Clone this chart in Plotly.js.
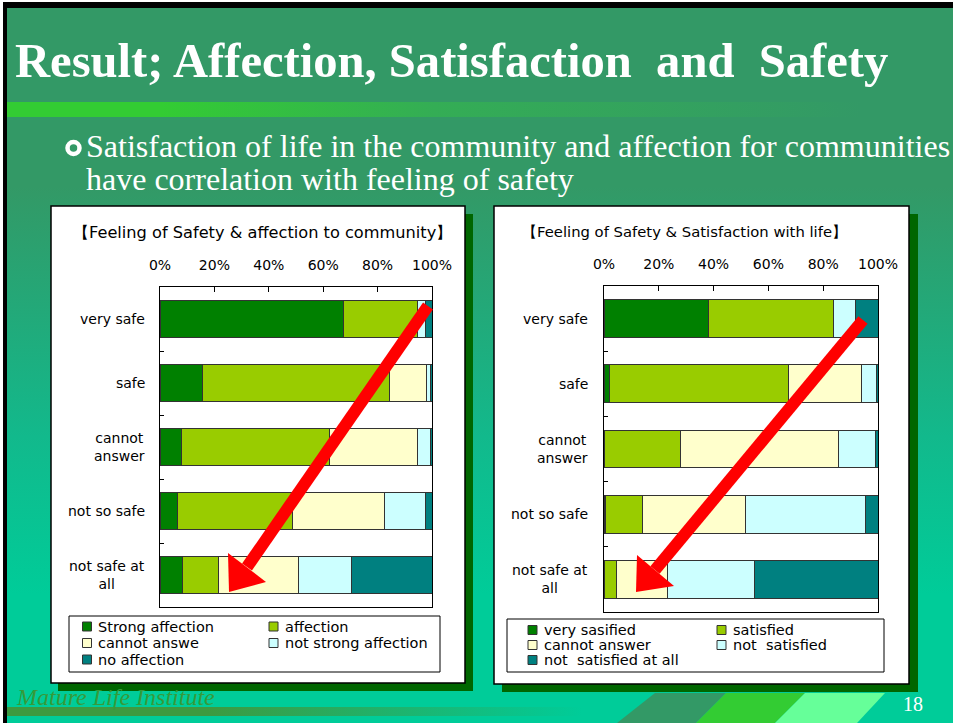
<!DOCTYPE html>
<html>
<head>
<meta charset="utf-8">
<script src="https://cdn.plot.ly/plotly-3.0.1.min.js"></script>
<style>
html,body{margin:0;padding:0;background:#fff;}
#wrap{position:relative;width:953px;height:723px;overflow:hidden;background:#fff;}
#bg{position:absolute;left:3px;top:2px;width:950px;height:721px;box-sizing:border-box;border-left:4px solid #000;border-top:6px solid #000;
 background:linear-gradient(to bottom,#339966 0%,#339966 25%,#12b98c 60%,#00cc99 82%,#00cc99 100%);}
#bar1{position:absolute;left:7px;top:102px;width:855px;height:15px;background:linear-gradient(to right,#33cc33 0%,#33cc33 18%,#34ad55 50%,#339966 100%);}
#bar2{position:absolute;left:7px;top:707px;width:575px;height:9px;background:linear-gradient(to right,#3d9a40 0%,#3d9a40 35%,rgba(0,204,153,0) 100%);}
#chart{position:absolute;left:0;top:0;width:953px;height:723px;}
</style>
</head>
<body>
<div id="wrap">
  <div id="bg"></div>
  <div id="bar1"></div>
  <div id="bar2"></div>
  <div id="chart"></div>
</div>
<script>
// ---------- data ----------
const categories = ['very safe', 'safe', 'cannot answer', 'not so safe', 'not safe at all'];
const categoryLabels = ['very safe', 'safe', 'cannot<br>answer', 'not so safe', 'not safe at<br>all'];

const affectionNames = ['Strong affection', 'affection', 'cannot answe', 'not strong affection', 'no affection'];
const strongAffection    = [67.5, 15.7,  8.0,  6.5,  8.3];
const affection          = [27.0, 68.7, 54.4, 42.3, 13.3];
const cannotAnswerA      = [ 0.3, 13.6, 32.1, 33.9, 29.4];
const notStrongAffection = [ 2.8,  1.5,  4.9, 14.9, 19.3];
const noAffection        = [ 2.4,  0.5,  0.6,  2.4, 29.7];

const satisfactionNames = ['very sasified', 'satisfied', 'cannot answer', 'not\u00a0 satisfied', 'not\u00a0 satisfied at all'];
const verySatisfied      = [38.0,  1.9,  0.3,  0.7,  0.0];
const satisfied          = [45.8, 65.6, 27.7, 13.2,  4.6];
const cannotAnswerS      = [ 0.0, 26.5, 57.7, 37.7, 18.5];
const notSatisfied       = [ 8.1,  5.4, 13.4, 44.0, 32.0];
const notSatisfiedAtAll  = [ 8.1,  0.6,  0.9,  4.4, 44.9];

const pctTicks = [0, 20, 40, 60, 80, 100];
const pctLabels = ['0%', '20%', '40%', '60%', '80%', '100%'];

const chartTitles = ['\u3010Feeling of Safety & affection to community\u3011', '\u3010Feeling of Safety & Satisfaction with life\u3011'];

// ---------- styling ----------
const colors = ['#008000', '#99cc00', '#ffffcc', '#ccffff', '#008080'];
const W = 953, H = 723;
const px = x => x / W;
const py = y => 1 - y / H;
const pt = (x, y) => px(x) + ',' + py(y);

const seriesA = [strongAffection, affection, cannotAnswerA, notStrongAffection, noAffection];
const seriesS = [verySatisfied, satisfied, cannotAnswerS, notSatisfied, notSatisfiedAtAll];

const traces = [];
seriesA.forEach((vals, i) => traces.push({
  type: 'bar', orientation: 'h', x: vals, y: categories, name: affectionNames[i],
  xaxis: 'x', yaxis: 'y', showlegend: false,
  marker: {color: colors[i], line: {color: '#333', width: 1}}, hoverinfo: 'skip'
}));
seriesS.forEach((vals, i) => traces.push({
  type: 'bar', orientation: 'h', x: vals, y: categories, name: satisfactionNames[i],
  xaxis: 'x2', yaxis: 'y2', showlegend: false,
  marker: {color: colors[i], line: {color: '#333', width: 1}}, hoverinfo: 'skip'
}));

const tickFont = {family: 'DejaVu Sans', size: 14, color: '#000'};
function xAxis(domain, anchor) {
  return {domain: domain, anchor: anchor, range: [0, 100], side: 'top', tickmode: 'array',
    tickvals: pctTicks, ticktext: pctLabels, ticks: 'inside', ticklen: 5, tickcolor: '#000',
    showline: true, mirror: true, linecolor: '#000', linewidth: 1, showgrid: false, zeroline: false,
    tickfont: tickFont, ticklabelstandoff: 10, fixedrange: true};
}
function yAxis(domain, anchor) {
  return {domain: domain, anchor: anchor, type: 'category', categoryorder: 'array', categoryarray: categories,
    autorange: 'reversed', tickson: 'boundaries', ticks: 'inside', ticklen: 4, tickcolor: '#000',
    showticklabels: false, showline: true, mirror: true, linecolor: '#000', linewidth: 1,
    showgrid: false, zeroline: false, fixedrange: true};
}

const annotations = [];
function txt(text, x, y, font, xanchor, extra) {
  annotations.push(Object.assign({text: text, x: px(x), y: py(y), xref: 'paper', yref: 'paper',
    xanchor: xanchor || 'left', yanchor: 'middle', showarrow: false, font: font}, extra || {}));
}
// slide texts
txt('<b>Result; Affection, Satisfaction\u00a0 and\u00a0 Safety</b>', 13, 61, {family: 'Liberation Serif', size: 48.6, color: '#fff'});
txt('Satisfaction of life in the community and affection for communities', 84, 146, {family: 'Liberation Serif', size: 32, color: '#fff'});
txt('have correlation with feeling of safety', 84, 179, {family: 'Liberation Serif', size: 32, color: '#fff'});
txt('<i>Mature Life Institute</i>', 14, 697, {family: 'Liberation Serif', size: 24, color: '#369a3a'});
txt('18', 913, 704, {family: 'Liberation Serif', size: 20, color: '#fff'}, 'center');
// chart titles
txt(chartTitles[0], 71, 233, {family: 'DejaVu Sans', size: 16.2, color: '#000'});
txt(chartTitles[1], 520, 232, {family: 'DejaVu Sans', size: 14.8, color: '#000'});
// category labels through the y scales
categories.forEach((c, i) => {
  annotations.push({text: categoryLabels[i], x: px(147), xref: 'paper', y: c, yref: 'y', xanchor: 'right', yanchor: 'middle',
    align: 'center', showarrow: false, font: {family: 'DejaVu Sans', size: 14, color: '#000'}});
  annotations.push({text: categoryLabels[i], x: px(590), xref: 'paper', y: c, yref: 'y2', xanchor: 'right', yanchor: 'middle',
    align: 'center', showarrow: false, font: {family: 'DejaVu Sans', size: 14, color: '#000'}});
});

function rect(x0, y0, x1, y1, fill, line, layer) {
  return {type: 'rect', xref: 'paper', yref: 'paper', x0: px(x0), x1: px(x1), y0: py(y1), y1: py(y0),
    fillcolor: fill, line: line || {width: 0}, layer: layer || 'below'};
}
function path(d, fill, line, layer) {
  return {type: 'path', xref: 'paper', yref: 'paper', path: d, fillcolor: fill, line: line || {width: 0}, layer: layer || 'below'};
}
const shapes = [
  // panel shadows and panels
  rect(58, 214, 473, 691, '#006600'),
  rect(51, 206, 465, 683, '#ffffff', {color: '#000', width: 1.5}),
  rect(502, 214, 918, 692, '#006600'),
  rect(494, 206, 909, 684, '#ffffff', {color: '#000', width: 1.5}),
  // footer decorations
  path('M' + pt(617, 723) + 'L' + pt(655, 693) + 'L' + pt(726, 693) + 'L' + pt(696, 723) + 'Z', '#339966'),
  path('M' + pt(696, 723) + 'L' + pt(726, 693) + 'L' + pt(805, 693) + 'L' + pt(775, 723) + 'Z', '#33cc33'),
  path('M' + pt(775, 723) + 'L' + pt(805, 693) + 'L' + pt(885, 693) + 'L' + pt(857, 723) + 'Z', '#66ff99'),
  // bullet ring
  {type: 'circle', xref: 'paper', yref: 'paper', x0: px(67.5), x1: px(79.5), y0: py(154), y1: py(142),
    line: {color: '#fff', width: 4.5}, fillcolor: 'rgba(0,0,0,0)', layer: 'above'},
  // red arrows
  path('M' + pt(428, 306) + 'L' + pt(247, 567), 'rgba(0,0,0,0)', {color: '#ff0000', width: 12}, 'above'),
  path('M' + pt(229, 592) + 'L' + pt(228, 553) + 'L' + pt(266, 582) + 'Z', '#ff0000', {width: 0}, 'above'),
  path('M' + pt(863, 320) + 'L' + pt(655, 570), 'rgba(0,0,0,0)', {color: '#ff0000', width: 12}, 'above'),
  path('M' + pt(636, 592) + 'L' + pt(637, 555) + 'L' + pt(674, 586) + 'Z', '#ff0000', {width: 0}, 'above')
];

// ---------- legends (two columns, three rows, as in the slide) ----------
function buildLegend(names, box, colX, rowY) {
  shapes.push(rect(box[0], box[1], box[2], box[3], '#ffffff', {color: '#000', width: 1}, 'above'));
  names.forEach((name, i) => {
    const sx = colX[i % 2], sy = rowY[Math.floor(i / 2)];
    shapes.push(rect(sx, sy - 4.5, sx + 9, sy + 4.5, colors[i], {color: '#333', width: 1}, 'above'));
    annotations.push({text: name, x: px(sx + 13.5), y: py(sy), xref: 'paper', yref: 'paper', xanchor: 'left', yanchor: 'middle',
      showarrow: false, font: {family: 'DejaVu Sans', size: 14.5, color: '#000'}});
  });
}
buildLegend(affectionNames, [69, 616, 440, 672], [82.5, 269], [626.5, 643, 659.5]);
buildLegend(satisfactionNames, [507, 619, 884, 672], [528, 717], [630, 645, 660]);

const layout = {
  width: W, height: H, margin: {l: 0, r: 0, t: 0, b: 0, autoexpand: false},
  paper_bgcolor: 'rgba(0,0,0,0)', plot_bgcolor: '#fff',
  barmode: 'stack', bargap: 0.42, showlegend: false,
  xaxis: xAxis([px(160), px(432)], 'y'),
  yaxis: yAxis([py(607), py(287)], 'x'),
  xaxis2: xAxis([px(604), px(878)], 'y2'),
  yaxis2: yAxis([py(612), py(286)], 'x2'),
  annotations: annotations,
  shapes: shapes
};

Plotly.newPlot('chart', traces, layout, {staticPlot: true, displayModeBar: false});
</script>
</body>
</html>
